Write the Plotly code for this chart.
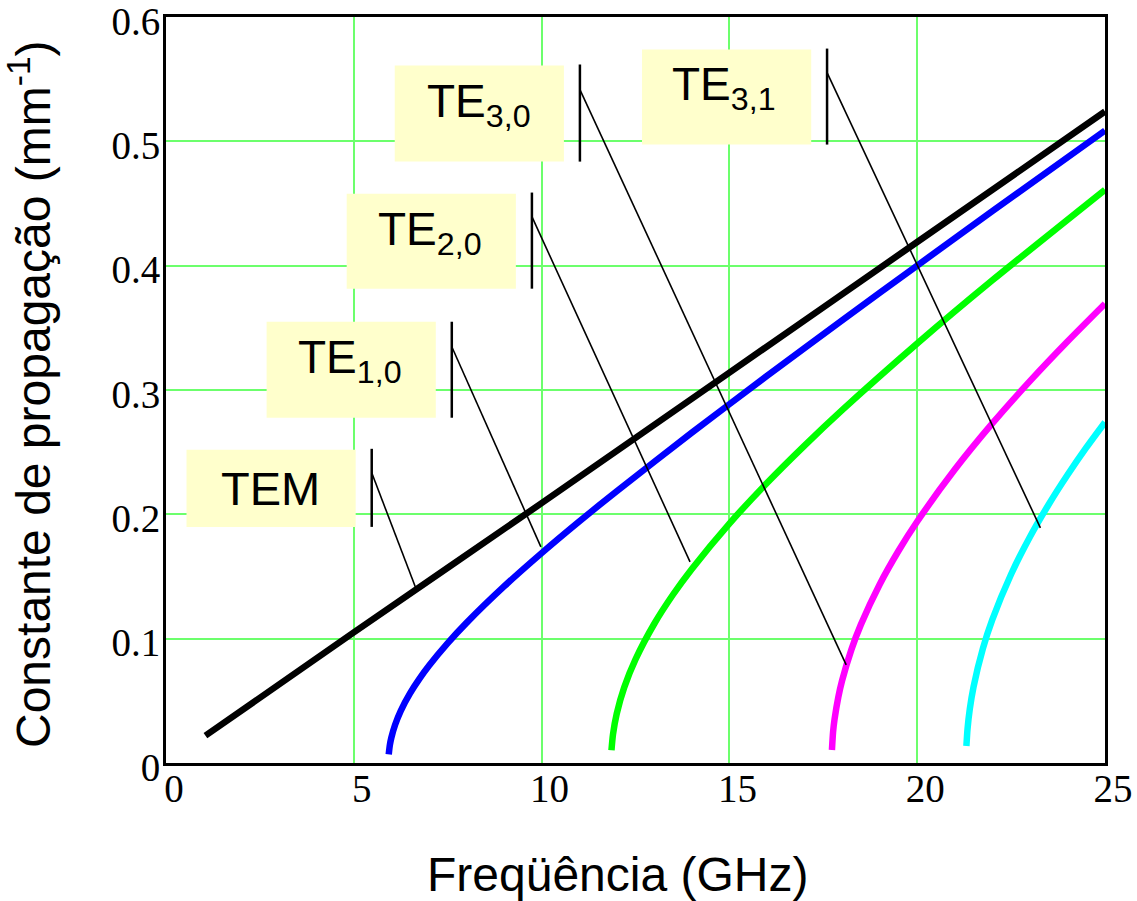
import plotly.graph_objects as go

# ---------------- data ----------------
tem_f = [1.05, 5, 10, 15, 20, 25]
tem_b = [0.022, 0.105, 0.209, 0.314, 0.419, 0.524]

te10_f = [5.93, 5.96, 6.0, 6.1, 6.25, 6.5, 6.75, 7, 7.5, 8, 9, 10, 11, 12, 14, 16, 18, 20, 22, 25]
te10_b = [0.007, 0.0144, 0.0204, 0.0308, 0.042, 0.0562, 0.0679, 0.0782, 0.0964, 0.1127, 0.142,
          0.1688, 0.1942, 0.2186, 0.2657, 0.3113, 0.356, 0.4001, 0.4438, 0.5087]

te20_f = [11.86, 11.9, 12.0, 12.2, 12.5, 13, 13.5, 14, 15, 16, 17, 18, 20, 22, 25]
te20_b = [0.0102, 0.0228, 0.0396, 0.0608, 0.0833, 0.112, 0.1355, 0.1561, 0.1926, 0.2252,
          0.2553, 0.2838, 0.3374, 0.3882, 0.461]

te30_f = [17.73, 17.76, 17.8, 17.9, 18.0, 18.25, 18.5, 19, 19.5, 20, 21, 22, 23, 24, 25]
te30_b = [0.0105, 0.0249, 0.0353, 0.053, 0.0662, 0.0914, 0.1113, 0.1436, 0.1705, 0.1942,
          0.236, 0.2731, 0.3071, 0.339, 0.3694]

te31_f = [21.31, 21.34, 21.4, 21.5, 21.75, 22, 22.5, 23, 23.5, 24, 24.5, 25]
te31_b = [0.0137, 0.0274, 0.0433, 0.0613, 0.0922, 0.1153, 0.1518, 0.1818, 0.2079, 0.2316,
          0.2536, 0.2741]

x_ticks = [0, 5, 10, 15, 20, 25]
y_ticks = [0, 0.1, 0.2, 0.3, 0.4, 0.5, 0.6]
y_tick_labels = ["0", "0.1", "0.2", "0.3", "0.4", "0.5", "0.6"]

mode_labels = ["TEM", "TE<sub>1,0</sub>", "TE<sub>2,0</sub>", "TE<sub>3,0</sub>", "TE<sub>3,1</sub>"]

# ---------------- layout constants ----------------
W, H = 1137, 901
L, R, T, B = 166, 32, 17, 138

series = [
    (tem_f, tem_b, "#000000"),
    (te10_f, te10_b, "#0000FF"),
    (te20_f, te20_b, "#00FF00"),
    (te30_f, te30_b, "#FF00FF"),
    (te31_f, te31_b, "#00FFFF"),
]

fig = go.Figure()
for f, b, c in series:
    fig.add_trace(go.Scatter(x=f, y=b, mode="lines",
                             line=dict(color=c, width=6.5, shape="spline", smoothing=0.6),
                             showlegend=False, hoverinfo="skip"))

# label boxes (x0, x1, y0, y1) in axis units
boxes = [
    (0.546, 5.050, 0.1899, 0.2519),
    (2.679, 7.183, 0.2777, 0.3549),
    (4.811, 9.315, 0.3815, 0.4579),
    (6.090, 10.594, 0.4837, 0.5610),
    (12.673, 17.178, 0.4974, 0.5738),
]
label_pos = [
    (2.785, 0.2209),
    (4.904, 0.3239),
    (7.036, 0.4270),
    (8.342, 0.5300),
    (14.856, 0.5429),
]
vlines = [
    (5.477, 0.2527, 0.1899),
    (7.609, 0.3549, 0.2777),
    (9.742, 0.4588, 0.3815),
    (11.02, 0.5618, 0.4837),
    (17.60, 0.5746, 0.4974),
]
pointers = [
    (5.477, 0.2334, 6.650, 0.1408),
    (7.609, 0.3348, 9.981, 0.1738),
    (9.742, 0.4394, 13.952, 0.1618),
    (11.02, 0.5416, 18.11, 0.0789),
    (17.60, 0.5553, 23.28, 0.1891),
]

shapes = []
for x0, x1, y0, y1 in boxes:
    shapes.append(dict(type="rect", xref="x", yref="y", x0=x0, x1=x1, y0=y0, y1=y1,
                       fillcolor="#FFFFCC", line=dict(width=0), layer="above"))
for vx, y1, y0 in vlines:
    shapes.append(dict(type="line", xref="x", yref="y", x0=vx, x1=vx, y0=y0, y1=y1,
                       line=dict(color="black", width=2.5)))
for x0, y0, x1, y1 in pointers:
    shapes.append(dict(type="line", xref="x", yref="y", x0=x0, y0=y0, x1=x1, y1=y1,
                       line=dict(color="black", width=1.6)))

annotations = []
for (cx, cy), txt in zip(label_pos, mode_labels):
    annotations.append(dict(x=cx, y=cy, xref="x", yref="y", text=txt, showarrow=False,
                            xanchor="center", yanchor="middle",
                            font=dict(family="Liberation Sans, Arial",
                                      size=47 if txt == "TEM" else 46, color="black")))

pw = W - L - R
ph = H - T - B
def px_x(p):
    return (p - L) / pw
def px_y(p):
    return (H - B - p) / ph

# axis titles
annotations.append(dict(x=px_x(617), y=px_y(874), xref="paper", yref="paper",
                        xanchor="center", yanchor="middle",
                        text="Freqüência (GHz)", showarrow=False,
                        font=dict(family="Liberation Sans, Arial", size=48, color="black")))
annotations.append(dict(x=px_x(30), y=px_y(394), xref="paper", yref="paper",
                        xanchor="center", yanchor="middle",
                        text="Constante de propagação (mm<sup>-1</sup>)", showarrow=False,
                        textangle=-90,
                        font=dict(family="Liberation Sans, Arial", size=48, color="black")))

grid_col = "#6CFF6C"
fig.update_layout(
    width=W, height=H,
    margin=dict(l=L, r=R, t=T, b=B, autoexpand=False),
    paper_bgcolor="white", plot_bgcolor="white",
    shapes=shapes, annotations=annotations,
    xaxis=dict(range=[0, 25], tickvals=x_ticks, ticktext=[str(v) for v in x_ticks],
               automargin=False,
               showgrid=True, gridcolor=grid_col, gridwidth=1.5, zeroline=False,
               showline=True, linecolor="black", linewidth=3, mirror=True, ticks="",
               ticklabelshift=8, ticklabelstandoff=-11, ticklabeloverflow="allow",
               tickfont=dict(family="Liberation Serif, Times New Roman", size=39, color="black")),
    yaxis=dict(range=[0, 0.6], tickvals=y_ticks, ticktext=y_tick_labels,
               automargin=False,
               showgrid=True, gridcolor=grid_col, gridwidth=1.5, zeroline=False,
               showline=True, linecolor="black", linewidth=3, mirror=True, ticks="",
               ticklabelshift=4, ticklabelstandoff=-5, ticklabeloverflow="allow",
               tickfont=dict(family="Liberation Serif, Times New Roman", size=39, color="black")),
)

fig.write_html("out.html",
               config={"displayModeBar": False},
               post_script="document.body.style.margin='0';document.body.style.overflow='hidden';")
